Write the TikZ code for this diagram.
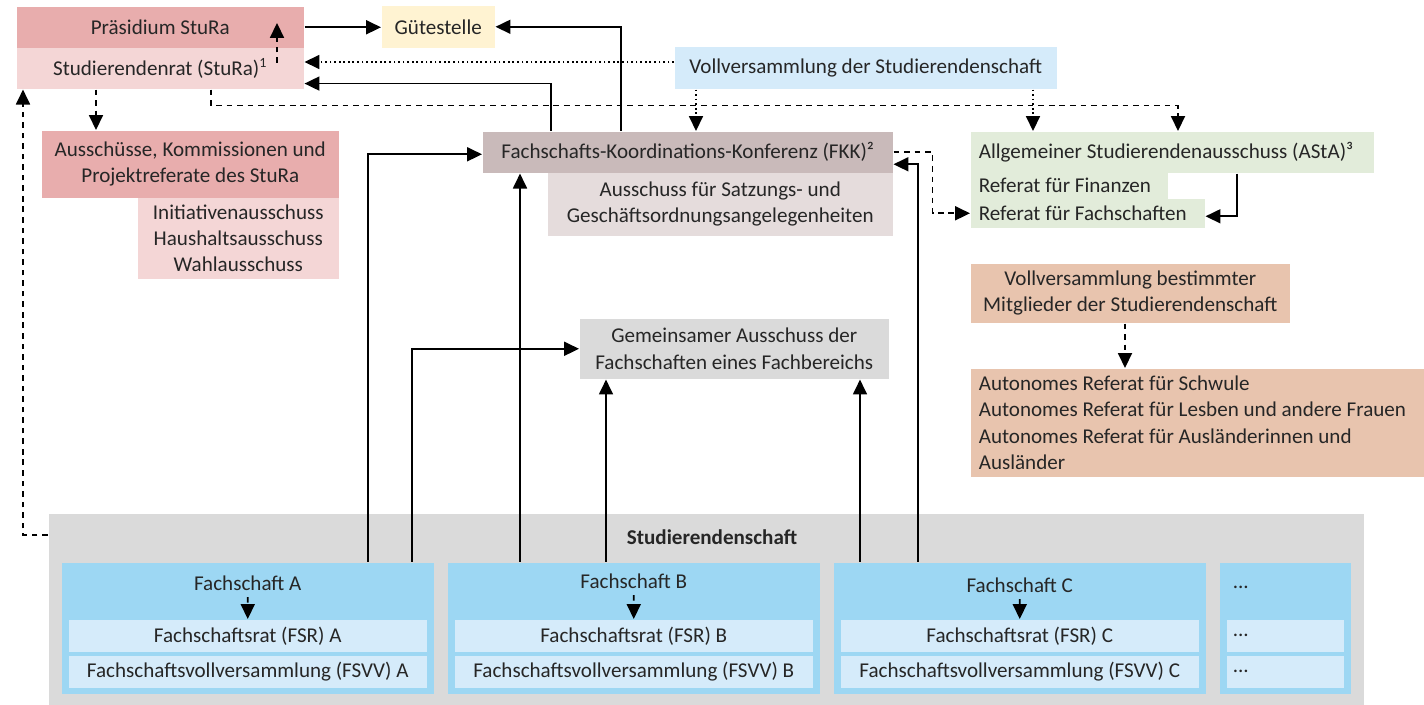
\documentclass[tikz,border=0pt]{standalone}
\usepackage{fontspec}
\setmainfont{Carlito}
\usetikzlibrary{calc, arrows.meta}
\newcommand{\BoxFont}{\fontsize{12}{15}\selectfont}
\definecolor{RedFill}{RGB}{232,173,173}
\definecolor{LightRedFill}{RGB}{244,214,214}
\definecolor{YellowFill}{RGB}{255,243,210}
\definecolor{BlueFill}{RGB}{157,215,243}
\definecolor{LightBlueFill}{RGB}{213,235,250}
\definecolor{BrownFill}{RGB}{201,186,186}
\definecolor{LightBrownFill}{RGB}{229,220,220}
\definecolor{GreenFill}{RGB}{226,236,218}
\definecolor{OrangeFill}{RGB}{232,196,174}
\definecolor{GreyFill}{RGB}{218,218,218}
\tikzset{RedSquare/.style={
    inner sep=0pt,
    anchor=north west,
    fill=RedFill,
    align=center
    }
}
\tikzset{LightRedSquare/.style={
    inner sep=0pt,
    anchor=north west,
    fill=LightRedFill,
    align=center
    }
}
\tikzset{YellowSquare/.style={
    inner sep=0pt,
    anchor=north west,
    fill=YellowFill,
    align=center
    }
}
\tikzset{BlueSquare/.style={
    inner sep=0pt,
    anchor=north west,
    fill=BlueFill,
    align=center
    }
}
\tikzset{LightBlueSquare/.style={
    inner sep=0pt,
    anchor=north west,
    fill=LightBlueFill,
    align=center
    }
}
\tikzset{LightBlueLeftSquare/.style={
    inner sep=0pt,
    inner xsep=0.12cm,
    anchor=north west,
    fill=LightBlueFill,
    align=flush left
    }
}
\tikzset{BrownSquare/.style={
    inner sep=0pt,
    anchor=north west,
    fill=BrownFill,
    align=center
    }
}
\tikzset{LightBrownSquare/.style={
    inner sep=0pt,
    anchor=north west,
    fill=LightBrownFill,
    align=center
    }
}
\tikzset{GreenLeftSquare/.style={
    inner sep=0pt,
    inner xsep=0.16cm,
    anchor=north west,
    fill=GreenFill,
    align=flush left
    }
}
\tikzset{OrangeSquare/.style={
    inner sep=0pt,
    anchor=north west,
    fill=OrangeFill,
    align=center
    }
}
\tikzset{OrangeLeftSquare/.style={
    inner sep=0pt,
    inner xsep=0.16cm,
    anchor=north west,
    fill=OrangeFill,
    align=flush left
    }
}
\tikzset{GreySquare/.style={
    inner sep=0pt,
    anchor=north west,
    fill=GreyFill,
    align=center
    }
}
\tikzset{DashedLine/.style={dash pattern=on 3.2pt off 2.8pt}}
\tikzset{DottedLine/.style={dash pattern=on 1pt off 1.6pt}}
\begin{document}
\begin{tikzpicture}[x=0.02cm, y=-0.02cm, line width=0.9pt, >={Triangle[length=8.5pt,width=8pt]}, font=\BoxFont, text=black!85]
    \useasboundingbox (0,0) rectangle (1424,705);

    \node (Praesidium) [RedSquare, minimum width=5.74cm, minimum height=0.82cm] at (16,6) {Präsidium StuRa};
    \node (StuRa) [LightRedSquare, minimum width=5.74cm, minimum height=0.82cm] at (16,47) {Studierendenrat (StuRa)\textsuperscript{1}};
    \node (Guete) [YellowSquare, minimum width=2.26cm, minimum height=0.84cm] at (381,5) {Gütestelle};
    \node (VV) [LightBlueSquare, minimum width=7.64cm, minimum height=0.84cm] at (674,46) {Vollversammlung der Studierendenschaft};

    \node (Ausschuesse) [RedSquare, minimum width=5.94cm, minimum height=1.34cm] at (41,130) {Ausschüsse, Kommissionen und\\Projektreferate des StuRa};
    \node (StuRaSub) [LightRedSquare, minimum width=4.02cm, minimum height=1.62cm] at (137,197) {Initiativenausschuss\\Haushaltsausschuss\\Wahlausschuss};

    \node (FKK) [BrownSquare, minimum width=8.2cm, minimum height=0.82cm] at (482,131) {Fachschafts-Koordinations-Konferenz (FKK)²};
    \node (FKKSub) [LightBrownSquare, minimum width=6.9cm, minimum height=1.26cm] at (547,172) {Ausschuss für Satzungs- und\\Geschäftsordnungsangelegenheiten};

    \node (AStA) [GreenLeftSquare, minimum width=8.06cm, text width=7.74cm, minimum height=0.82cm] at (970,131) {Allgemeiner Studierendenausschuss (AStA)³};
    \node (RefFin) [GreenLeftSquare, text width=3.62cm, minimum height=0.52cm] at (970,172) {Referat für Finanzen};
    \node (RefFS) [GreenLeftSquare, text width=4.36cm, minimum height=0.58cm] at (970,198) {Referat für Fachschaften};

    \node (VVbest) [OrangeSquare, minimum width=6.38cm, minimum height=1.18cm] at (970,263) {Vollversammlung bestimmter\\Mitglieder der Studierendenschaft};
    \node (Autonom) [OrangeLeftSquare, text width=9cm, minimum height=2.16cm] at (970,368) {Autonomes Referat für Schwule\\Autonomes Referat für Lesben und andere Frauen\\Autonomes Referat für Ausländerinnen und\\Ausländer};

    \node (Gemeinsam) [GreySquare, minimum width=6.18cm, minimum height=1.2cm] at (579,318) {Gemeinsamer Ausschuss der\\Fachschaften eines Fachbereichs};

    \node (Stud) [GreySquare, minimum width=26.3cm, minimum height=3.84cm] at (48,513) {};
    \node (StudTitle) [font=\BoxFont\bfseries] at (712,537) {Studierendenschaft};

    \node (FachA) [BlueSquare, minimum width=7.44cm, minimum height=2.62cm] at (61,562) {};
    \node (FachAtitle) at ($(FachA.north)+(0,21)$) {Fachschaft A};
    \node (FSRA) [LightBlueSquare, minimum width=7.16cm, minimum height=0.64cm] at (68,619) {Fachschaftsrat (FSR) A};
    \node (FSVVA) [LightBlueSquare, minimum width=7.16cm, minimum height=0.64cm] at (68,655) {Fachschaftsvollversammlung (FSVV) A};
        \draw [->, DashedLine] (FachAtitle.south) -- (FSRA.north);

    \node (FachB) [BlueSquare, minimum width=7.44cm, minimum height=2.62cm] at (447,562) {};
    \node (FachBtitle) at ($(FachB.north)+(0,19)$) {Fachschaft B};
    \node (FSRB) [LightBlueSquare, minimum width=7.16cm, minimum height=0.64cm] at (454,619) {Fachschaftsrat (FSR) B};
    \node (FSVVB) [LightBlueSquare, minimum width=7.16cm, minimum height=0.64cm] at (454,655) {Fachschaftsvollversammlung (FSVV) B};
        \draw [->, DashedLine] (FachBtitle.south) -- (FSRB.north);

    \node (FachC) [BlueSquare, minimum width=7.44cm, minimum height=2.62cm] at (833,562) {};
    \node (FachCtitle) at ($(FachC.north)+(0,23)$) {Fachschaft C};
    \node (FSRC) [LightBlueSquare, minimum width=7.16cm, minimum height=0.64cm] at (840,619) {Fachschaftsrat (FSR) C};
    \node (FSVVC) [LightBlueSquare, minimum width=7.16cm, minimum height=0.64cm] at (840,655) {Fachschaftsvollversammlung (FSVV) C};
        \draw [->, DashedLine] (FachCtitle.south) -- (FSRC.north);

    \node (FachX) [BlueSquare, minimum width=2.62cm, minimum height=2.62cm] at (1219,562) {};
    \node (FachXtitle) [anchor=west, inner sep=0pt] at (1232,587) {...};
    \node (FSRX) [LightBlueLeftSquare, minimum width=2.34cm, text width=2.1cm, minimum height=0.64cm] at (1226,619) {...};
    \node (FSVVX) [LightBlueLeftSquare, minimum width=2.34cm, text width=2.1cm, minimum height=0.64cm] at (1226,655) {...};

    \coordinate (p1) at ($(StuRa.north west)+(261,16)$);
    \coordinate (p2) at ($(Praesidium.north west)+(261,17)$);
        \draw [->, DashedLine] (p1) -- (p2);
        \draw [->] (Praesidium.east) -- (Praesidium.east -| Guete.west);
    \coordinate (k1) at ($(FKK.north west)+(139,0)$);
        \draw [->] (k1) |- (Guete.east);
    \coordinate (k2) at ($(FKK.north west)+(69,0)$);
    \coordinate (r3) at ($(StuRa.south east)+(0,-6)$);
        \draw [->] (k2) |- (r3);
    \coordinate (v1) at ($(VV.north west)+(0,16)$);
        \draw [->, DottedLine] (v1) -- (v1 -| StuRa.east);
    \coordinate (r1) at ($(StuRa.south west)+(80,0)$);
        \draw [->, DashedLine] (r1) -- (r1 |- Ausschuesse.north);
    \coordinate (r2) at ($(StuRa.south west)+(195,0)$);
    \coordinate (a1) at ($(AStA.north west)+(208,0)$);
        \draw [->, DashedLine] (r2) -- ++(0,16) -| (a1);
    \coordinate (v2) at ($(VV.south west)+(22,0)$);
    \coordinate (v3) at ($(VV.south west)+(359,0)$);
        \draw [->, DottedLine] (v2) -- (v2 |- FKK.north);
        \draw [->, DottedLine] (v3) -- (v3 |- AStA.north);
        \draw [->, DashedLine] (FKK.east) -- ++(39,0) |- (RefFS.west);
    \coordinate (a2) at ($(AStA.south west)+(267,0)$);
        \draw [->] (a2) |- ($(RefFS.east)+(0,3)$);
    \coordinate (b1) at ($(VVbest.south west)+(155,0)$);
        \draw [->, DashedLine] (b1) -- (b1 |- Autonom.north);
    \coordinate (s1) at ($(Stud.north west)+(0,22)$);
    \coordinate (r0) at ($(StuRa.south west)+(7,0)$);
        \draw [->, DashedLine] (s1) -| (r0);

    \coordinate (f1) at ($(FachA.north west)+(307,0)$);
    \coordinate (f2) at ($(FachA.north west)+(351,0)$);
        \draw [->] (f1) |- ($(FKK.west)+(0,2)$);
        \draw [->] (f2) |- (Gemeinsam.west);
    \coordinate (f3) at ($(FachB.north west)+(73,0)$);
    \coordinate (f4) at ($(FachB.north west)+(159,0)$);
        \draw [->] (f3) -- (f3 |- FKK.south);
        \draw [->] (f4) -- (f4 |- Gemeinsam.south);
    \coordinate (f5) at ($(FachC.north west)+(27,0)$);
    \coordinate (f6) at ($(FachC.north west)+(85,0)$);
        \draw [->] (f5) -- (f5 |- Gemeinsam.south);
        \draw [->] (f6) |- ($(FKK.east)+(0,12)$);
\end{tikzpicture}
\end{document}
